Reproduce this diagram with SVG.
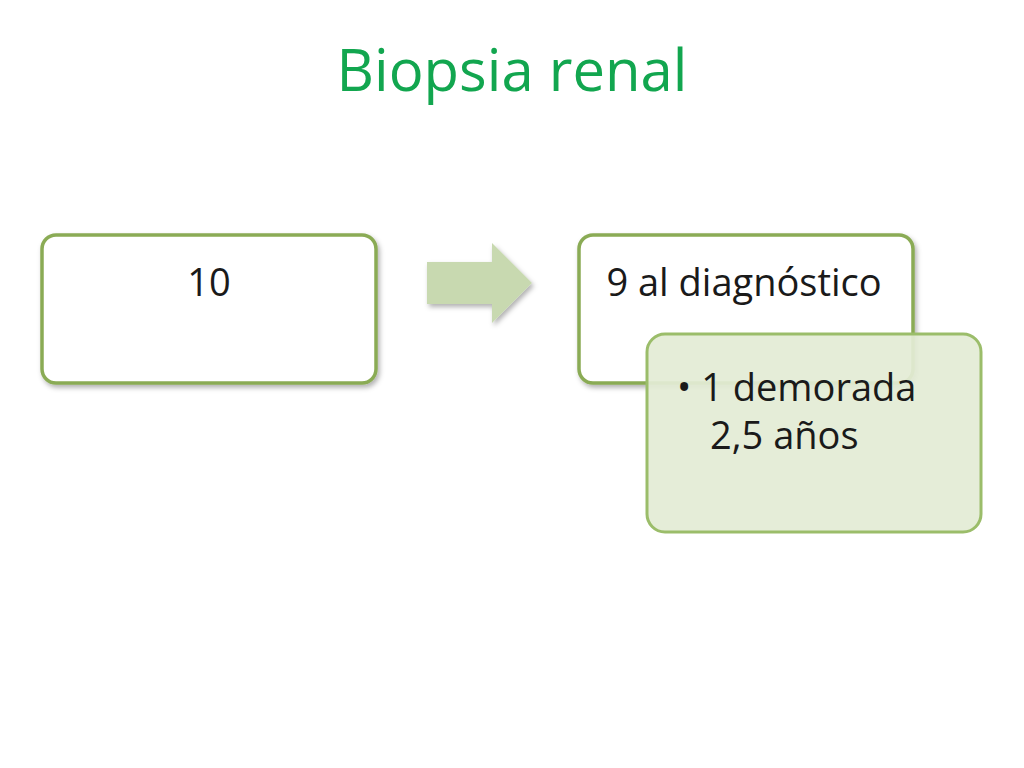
<svg xmlns="http://www.w3.org/2000/svg" width="1024" height="768" viewBox="0 0 1024 768">
<defs>
<filter id="sh" x="-10%" y="-10%" width="130%" height="130%"><feDropShadow dx="2" dy="3" stdDeviation="2.5" flood-color="#000" flood-opacity="0.3"/></filter>
<style>
.box{fill:#fff;stroke:#8aab54;stroke-width:3.5}
.t{font-family:"Open Sans","Liberation Sans",sans-serif;font-size:38px;fill:#1a1a1a}
</style>
</defs>
<rect width="1024" height="768" fill="#fff"/>
<text x="512" y="91" text-anchor="middle" font-family="Open Sans, Liberation Sans, sans-serif" font-size="58" fill="#12a64f">Biopsia renal</text>
<g id="n1"><rect class="box" x="42" y="235" width="334" height="148" rx="14" filter="url(#sh)"/><text class="t" x="209" y="296" text-anchor="middle">10</text></g>
<g id="connectors"><path d="M427 262 H492 V243 L532 283 L492 323 V304 H427 Z" fill="#c8d9b0" filter="url(#sh)"/></g>
<g id="n2"><rect class="box" x="579" y="235" width="334" height="148" rx="14" filter="url(#sh)"/><text class="t" x="744" y="296" text-anchor="middle">9 al diagnóstico</text></g>
<g id="n3"><rect x="647" y="334" width="334" height="198" rx="18" fill="#e3ecd5" fill-opacity="0.93" stroke="#9bbd6a" stroke-width="3"/><text class="t" x="677" y="401">• 1 demorada</text><text class="t" x="710" y="449">2,5 años</text></g>
</svg>
